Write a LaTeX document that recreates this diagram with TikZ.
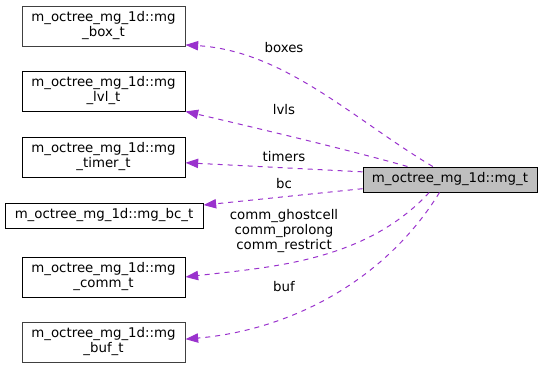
\documentclass[tikz,border=0pt]{standalone}
\usepackage{fontspec}
\setmainfont{DejaVu Sans}
\usetikzlibrary{arrows.meta}
\definecolor{relPurple}{HTML}{9A32CD}
\definecolor{mainGray}{HTML}{BFBFBF}
\begin{document}
\begin{tikzpicture}[x=0.75pt,y=-0.75pt,
  font={\fontsize{10pt}{11.25pt}\selectfont},
  classBox/.style={draw=black, line width=0.75pt, inner sep=0pt, align=center, minimum width=122.25pt, minimum height=30pt},
  mainBox/.style={classBox, fill=mainGray, minimum width=130.5pt, minimum height=18.75pt},
  relEdge/.style={draw=relPurple, line width=0.75pt, dash pattern=on 3.75pt off 3.75pt, -{Triangle[length=9.5pt,width=7pt]}},
  relLabel/.style={inner sep=0pt, align=center, font={\fontsize{10pt}{10.9pt}\selectfont}}]
\useasboundingbox (0,0) rectangle (543,368);
\node[classBox, draw=black!75] (mgBox) at (103.5,26) {m\_octree\_mg\_1d::mg\\\_box\_t};
\node[classBox] (mgLvl) at (103.5,91) {m\_octree\_mg\_1d::mg\\\_lvl\_t};
\node[classBox] (mgTimer) at (103.5,157) {m\_octree\_mg\_1d::mg\\\_timer\_t};
\node[classBox, minimum width=148.5pt, minimum height=18.75pt] (mgBc) at (104,215.5) {m\_octree\_mg\_1d::mg\_bc\_t};
\node[classBox] (mgComm) at (103.5,277) {m\_octree\_mg\_1d::mg\\\_comm\_t};
\node[classBox, draw=black!75] (mgBuf) at (103.5,342) {m\_octree\_mg\_1d::mg\\\_buf\_t};
\node[mainBox] (mgMain) at (450,179.5) {m\_octree\_mg\_1d::mg\_t};
% member relations
\draw[relEdge] (mgMain.143.7) .. controls +(-79,-47) and +(99,6) .. (mgBox.347.5);
\draw[relEdge] (mgMain.163.4) .. controls +(-60,-17) and +(60,14) .. (mgLvl.346.9);
\draw[relEdge] (mgMain.175.7) -- (mgTimer.356.5);
\draw[relEdge] (mgMain.186.9) -- (mgBc.6);
\draw[relEdge] (mgMain.212) .. controls +(-64,69) and +(86,-10) .. (mgComm.east);
\draw[relEdge] (mgMain.231.3) .. controls +(-54,88) and +(105,-9) .. (mgBuf.2.8);
\node[relLabel] (lblBoxes) at (284,48) {boxes};
\node[relLabel] (lblLvls) at (284,110) {lvls};
\node[relLabel] (lblTimers) at (284,157) {timers};
\node[relLabel] (lblBc) at (284,184) {bc};
\node[relLabel] (lblComm) at (284,231) {comm\_ghostcell\\comm\_prolong\\comm\_restrict};
\node[relLabel] (lblBuf) at (284,287) {buf};
\end{tikzpicture}
\end{document}
